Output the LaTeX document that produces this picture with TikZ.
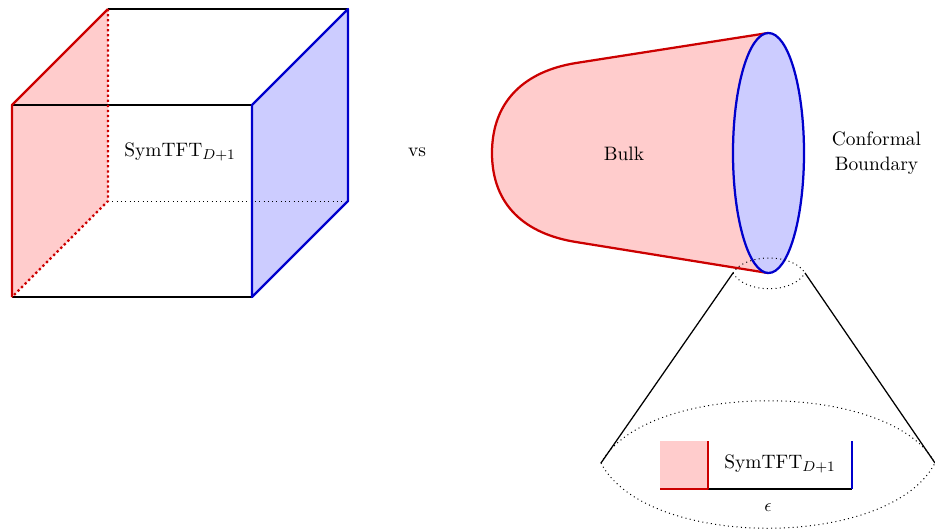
\documentclass[tikz,border=0pt]{standalone}
\definecolor{rl}{RGB}{204,0,0}
\definecolor{bl}{RGB}{0,0,204}
\definecolor{rf}{RGB}{255,204,204}
\definecolor{bf}{RGB}{204,204,255}
\tikzset{
  redline/.style={draw=rl,line width=1.25pt,line join=round},
  blueline/.style={draw=bl,line width=1.25pt,line join=round},
  blackline/.style={draw=black,line width=0.7pt},
  reddot/.style={draw=rl,line width=1.25pt,dash pattern=on 1.25pt off 1.55pt},
  blackdot/.style={draw=black,line width=0.55pt,dash pattern=on 0.55pt off 1.85pt},
  label/.style={inner sep=0pt,align=center,font=\fontsize{10.8}{13.5}\selectfont}
}
\begin{document}
\begin{tikzpicture}[x=0.5556pt,y=-0.5556pt]
\useasboundingbox (0,0) rectangle (935,529);
% cube corners
\coordinate (fa) at (12,105); \coordinate (fb) at (252,105);
\coordinate (fc) at (252,297); \coordinate (fd) at (12,297);
\coordinate (ba) at (108,9); \coordinate (bb) at (348,9);
\coordinate (bc) at (348,201); \coordinate (bd) at (108,201);
\fill[rf] (fa)--(ba)--(bd)--(fd)--cycle;
\fill[bf] (fb)--(bb)--(bc)--(fc)--cycle;
\draw[blackline] (fa)--(fb);
\draw[blackline] (fd)--(fc);
\draw[blackline] (ba)--(bb);
\draw[blackdot] (bd)--(bc);
\draw[reddot] (ba)--(bd)--(fd);
\draw[redline] (fd)--(fa)--(ba);
\draw[blueline] (fb)--(bb)--(bc)--(fc)--cycle;
\node[label] (sym) at (180,152) {SymTFT$_{D+1}$};
\node[label] (vs) at (417,152) {vs};
% bulk
\coordinate (top) at (768,33); \coordinate (bot) at (768,273);
\coordinate (ut) at (576,63); \coordinate (lt) at (576,242);
\fill[rf] (top)--(ut) .. controls (526,71) and (492,100) .. (492,153) .. controls (492,206) and (526,234) .. (lt)--(bot)--cycle;
\draw[redline] (top)--(ut) .. controls (526,71) and (492,100) .. (492,153) .. controls (492,206) and (526,234) .. (lt)--(bot);
\draw[blueline,fill=bf] (768.5,153) ellipse [x radius=35.5,y radius=120];
\node[label] (bulk) at (624,154) {Bulk};
\node[label] (cb) at (876.5,153) {Conformal\\Boundary};
% zoom lens
\coordinate (sl) at (733,273); \coordinate (sr) at (805,273);
\coordinate (ll) at (601,463); \coordinate (lr) at (935,463);
\draw[blackdot] (sl) .. controls (745,253) and (793,253) .. (sr);
\draw[blackdot] (sl) .. controls (745,294) and (793,294) .. (sr);
\draw[blackline] (sl)--(ll);
\draw[blackline] (sr)--(lr);
\draw[blackdot] (ll) .. controls (646,380) and (890,380) .. (lr);
\draw[blackdot] (ll) .. controls (646,550) and (890,550) .. (lr);
% slab
\coordinate (a) at (660,489); \coordinate (b) at (708,489);
\coordinate (c) at (708,441); \coordinate (d) at (852,489); \coordinate (e) at (852,441);
\coordinate (f) at (660,441);
\fill[rf] (f)--(c)--(b)--(a)--cycle;
\draw[blackline] (b)--(d);
\draw[redline] (a)--(b)--(c);
\draw[blueline] (d)--(e);
\node[label] (sym2) at (780,464) {SymTFT$_{D+1}$};
\node[label] (eps) at (768,508) {\fontsize{10}{12}\selectfont$\epsilon$};
\end{tikzpicture}
\end{document}
